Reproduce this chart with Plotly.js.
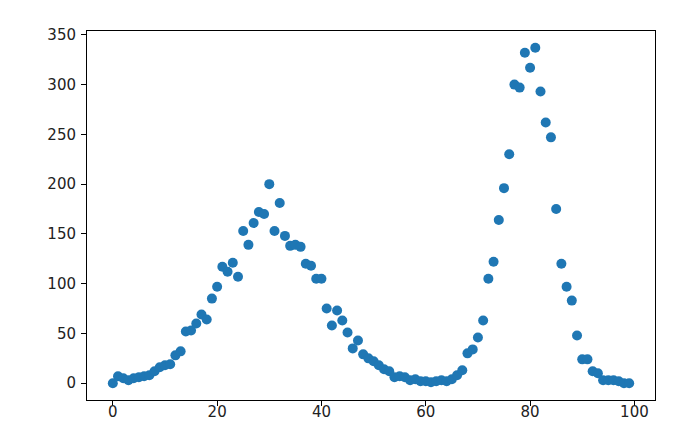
<!DOCTYPE html>
<html>
<head>
<meta charset="utf-8">
<script src="https://cdn.plot.ly/plotly-3.0.1.min.js"></script>
<style>html,body{margin:0;padding:0;background:#fff;}#chart{width:690px;height:426px;}</style>
</head>
<body>
<div id="chart"></div>
<script>
// x positions 0..99
const xValues = [
  0,1,2,3,4,5,6,7,8,9,10,11,12,13,14,15,16,17,18,19,
  20,21,22,23,24,25,26,27,28,29,30,31,32,33,34,35,36,37,38,39,
  40,41,42,43,44,45,46,47,48,49,50,51,52,53,54,55,56,57,58,59,
  60,61,62,63,64,65,66,67,68,69,70,71,72,73,74,75,76,77,78,79,
  80,81,82,83,84,85,86,87,88,89,90,91,92,93,94,95,96,97,98,99
];
const yValues = [
  0,7,5,3,5,6,7,8,12,16,18,19,28,32,52,53,60,69,64,85,
  97,117,112,121,107,153,139,161,172,170,200,153,181,148,138,139,137,120,118,105,
  105,75,58,73,63,51,35,43,29,25,22,18,14,12,6,7,6,3,4,2,
  2,1,2,3,2,4,8,13,30,34,46,63,105,122,164,196,230,300,297,332,
  317,337,293,262,247,175,120,97,83,48,24,24,12,10,3,3,3,2,0,0
];
const xTicks = [0,20,40,60,80,100];
const yTicks = [0,50,100,150,200,250,300,350];

const trace = {
  x: xValues, y: yValues, type: 'scatter', mode: 'markers',
  marker: {color: '#1f77b4', size: 10}
};
const axisCommon = {
  showgrid: false, zeroline: false, showline: true, linecolor: '#000', linewidth: 1,
  mirror: true, ticks: 'outside', ticklen: 5, tickwidth: 1, tickcolor: '#000',
  tickfont: {family: 'DejaVu Sans', size: 15, color: '#222'}
};
const layout = {
  width: 690, height: 426,
  margin: {l: 87, r: 35, t: 31, b: 26},
  paper_bgcolor: '#fff', plot_bgcolor: '#fff',
  showlegend: false,
  xaxis: Object.assign({}, axisCommon, {range: [-4.95, 103.95], tickvals: xTicks, ticktext: xTicks.map(String), ticklabelstandoff: -7}),
  yaxis: Object.assign({}, axisCommon, {range: [-16.85, 353.85], tickvals: yTicks, ticktext: yTicks.map(String), ticklabelstandoff: 2})
};
Plotly.newPlot('chart', [trace], layout, {displayModeBar: false, staticPlot: true});
</script>
</body>
</html>
